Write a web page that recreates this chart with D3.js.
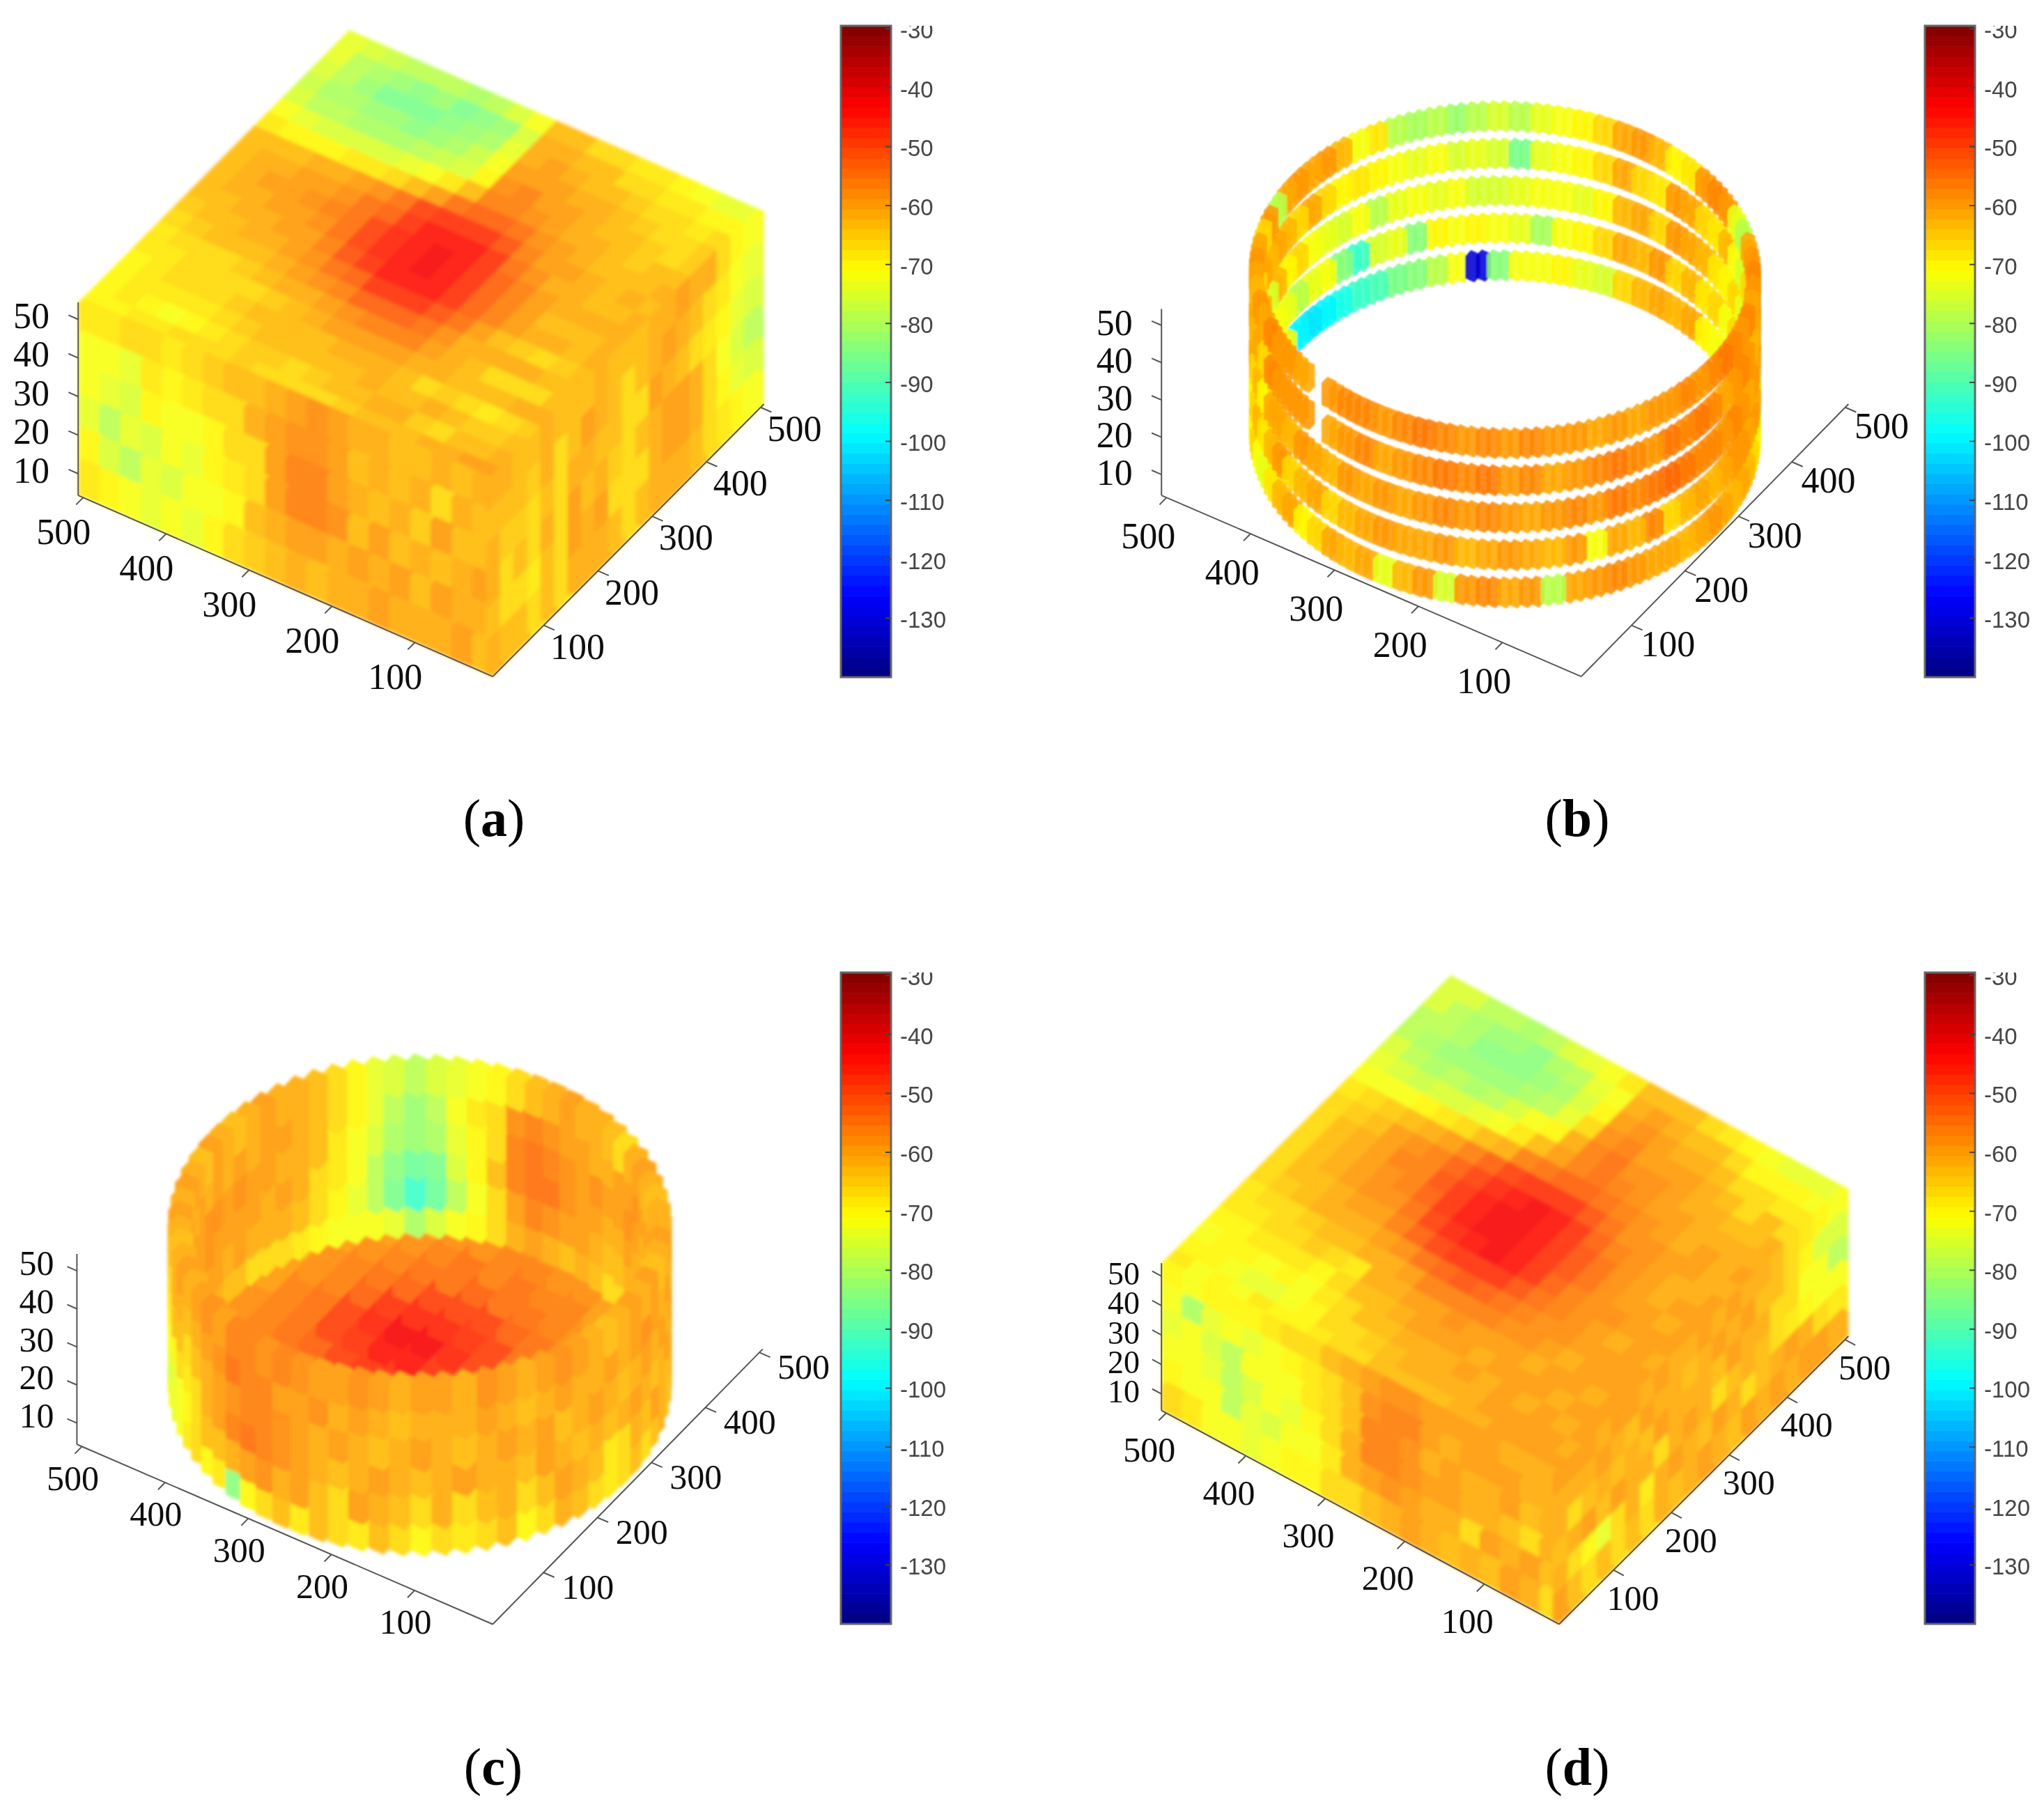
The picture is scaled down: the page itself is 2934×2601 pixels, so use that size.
<!DOCTYPE html>
<html><head><meta charset="utf-8">
<style>html,body{margin:0;background:#fff}svg{display:block}</style>
<script src="https://cdn.jsdelivr.net/npm/d3@7"></script></head><body>
<svg id="chart" width="2934" height="2601"></svg>
<script>
// All received-power readings below are magnitudes in dBm (62 means -62 dBm).
const xTicks=[100,200,300,400,500], yTicks=[100,200,300,400,500], zTicks=[10,20,30,40,50];
const barTicks=[-30,-40,-50,-60,-70,-80,-90,-100,-110,-120,-130];
const captions=['a','b','c','d'];

// Panel (a): top layer, rows x high to low, columns y low to high
const topA=[
[70,70,70,70,69,68,66,65,64,64,63,63,64,68,72,75,77,76,74,73],
[70,69,68,68,68,67,65,64,63,62,62,62,64,70,74,78,80,79,78,75],
[68,70,68,67,66,66,64,63,62,61,60,61,63,70,75,79,81,82,80,77],
[68,72,68,66,66,66,63,62,61,60,60,60,62,70,76,80,82,85,83,78],
[66,70,68,66,66,65,63,61,60,59,58,59,61,69,76,80,83,86,84,79],
[66,68,66,65,66,63,62,60,59,58,57,58,60,68,75,80,84,85,83,78],
[66,66,65,64,65,62,60,58,56,55,54,55,58,66,74,79,82,84,85,80],
[65,65,64,64,63,61,58,54,51,50,50,52,55,64,72,77,80,83,84,79],
[66,65,64,64,62,60,56,52,48,46,46,47,50,60,69,75,77,81,82,76],
[66,66,64,63,60,58,53,48,45,44,44,45,48,54,64,70,72,74,76,72],
[66,65,63,62,60,57,52,47,44,43,43,44,47,53,56,58,60,61,62,64],
[66,64,63,61,60,57,53,48,45,44,44,45,48,53,56,57,59,60,61,64],
[65,63,62,62,59,57,55,51,48,47,47,48,51,55,58,59,60,62,63,66],
[64,62,63,64,62,60,58,55,53,52,52,54,56,58,59,60,61,63,64,67],
[64,62,64,66,62,62,61,59,57,57,57,58,60,60,61,61,62,64,66,68],
[63,65,62,65,63,64,61,63,60,60,60,61,60,62,62,63,63,65,67,69],
[62,66,63,67,63,66,62,65,61,63,61,62,62,63,64,64,65,66,68,70],
[61,64,65,68,63,67,62,66,62,64,62,63,63,64,65,65,66,67,69,71],
[60,63,65,66,62,66,63,65,63,63,62,63,62,63,64,66,66,68,70,73],
[60,62,63,65,62,64,63,64,62,62,62,62,63,62,63,65,65,67,70,74]];
// left wall: rows top to bottom, columns far corner to front corner
const leftA=[
[68,68,67,66,68,66,65,64,63,62,60,58,60,62,62,63,64,62,63,62],
[71,72,73,68,70,68,66,67,62,60,58,58,60,63,61,64,62,66,61,63],
[72,74,76,70,72,72,70,66,66,60,57,57,59,62,63,61,65,60,63,64],
[73,79,74,76,72,74,70,68,66,60,56,56,58,64,60,63,62,64,62,60],
[70,76,78,73,76,72,72,70,64,62,60,60,61,60,62,60,63,60,62,61],
[68,70,72,74,72,74,70,66,65,64,62,63,62,61,60,62,61,62,60,64]];
// right wall: rows top to bottom, columns front corner to far corner
const rightA=[
[62,62,63,64,62,63,64,64,62,63,64,64,62,61,60,62,62,66,70,72],
[63,64,64,65,62,66,63,60,62,64,66,63,62,60,62,64,66,68,72,74],
[62,65,65,66,63,66,62,62,64,63,67,66,60,62,64,66,68,70,74,76],
[62,66,64,67,62,66,60,63,61,65,66,64,62,60,60,62,66,72,76,78],
[64,66,66,68,64,67,60,62,60,66,67,66,62,60,60,62,66,70,74,76],
[62,64,64,66,64,66,62,62,62,64,66,64,62,62,62,64,66,68,70,72]];

// Panel (b): five rings, clockwise on screen from the far side; 0 = no reading
const zB=[10,20,30,40,50];
const ringsB=[
[84,72,71,70,74,76,66,63,62,64,62,70,72,70,72,74,70,66,68,70,66,64,62,64,62,60,62,64,62,62,60,58,60,62,78,60,62,58,60,76,60,64,74,62,64,62,66,70,62,64,68,74,72,66,70,64,74,72,70,70,72,100,102,100,96,92,90,86,84,78,72,130],
[72,74,80,72,70,66,62,64,60,66,64,68,66,72,66,72,76,80,66,62,60,62,60,60,62,64,62,64,66,58,64,62,72,60,64,62,60,62,64,60,62,62,60,62,64,66,62,64,66,60,64,68,64,66,70,62,66,64,78,72,74,78,74,72,84,92,76,74,84,70,72,70],
[76,74,72,72,74,70,64,62,66,60,62,64,68,70,66,74,78,64,60,62,60,62,60,58,60,58,58,56,54,56,58,56,60,58,60,62,60,58,60,58,60,62,60,62,60,64,62,60,64,62,62,70,64,66,62,64,66,64,76,64,70,66,72,74,76,72,78,74,72,74,72,76],
[76,86,74,72,70,66,62,66,68,60,62,66,68,64,72,76,66,62,60,62,64,60,58,60,62,58,56,58,56,60,58,56,58,60,62,58,60,56,58,56,58,60,62,58,60,62,0,60,60,60,58,66,62,64,62,64,66,62,64,62,64,66,62,66,70,68,70,72,74,72,76,74],
[76,78,74,72,70,66,62,60,64,70,68,60,58,60,74,78,62,60,58,60,62,58,60,58,56,58,60,58,60,60,62,60,62,60,60,58,60,58,60,58,56,58,60,58,58,60,0,62,60,60,58,62,60,64,62,60,62,66,60,78,62,60,62,60,64,72,68,78,80,78,82,78]];

// Panel (c): floor, rows x high to low; then cylinder wall layers
const floorC=[
[62,62,62,60,60,60,60,60,60,62,62,64,66,66,64,64],
[62,62,60,60,60,58,58,58,58,60,60,62,62,62,64,64],
[62,60,60,58,60,58,56,56,56,56,58,58,60,60,62,62],
[60,62,60,58,58,56,56,54,54,54,56,56,58,60,60,62],
[62,60,58,60,58,56,54,52,50,50,52,54,56,58,60,60],
[60,62,60,58,56,54,52,50,48,46,48,52,54,56,58,60],
[62,60,58,58,56,54,50,48,44,42,46,50,54,54,58,60],
[60,60,60,58,54,54,50,48,44,42,46,50,52,56,56,58],
[62,60,58,58,56,54,52,50,48,46,48,50,54,54,56,60],
[60,62,60,58,56,54,54,52,50,50,50,52,54,56,58,58],
[62,60,62,60,58,56,56,54,54,54,54,54,56,56,58,60],
[60,62,60,62,60,58,58,58,56,56,58,58,58,60,60,62],
[62,60,62,60,62,60,60,60,60,60,60,60,60,62,60,62],
[60,62,60,62,60,62,60,62,60,62,60,62,60,62,62,60],
[62,60,62,60,62,60,62,60,62,60,62,60,62,60,62,62],
[60,62,60,62,60,62,60,62,60,62,60,62,60,62,60,62]];
const zC=[47,40,32,25,17,10];
const wallC=[
[78,76,74,72,70,66,64,62,60,62,62,64,66,62,60,62,64,62,62,60,62,64,60,62,60,62,64,62,60,58,60,62,60,58,62,60,60,62,60,58,60,60,58,56,58,56,56,60,58,60,62,60,62,64,62,60,62,60,62,64,60,62,64,62,60,62,62,64,66,70,74,76],
[82,78,72,68,66,58,56,58,60,60,62,62,60,60,58,60,60,62,60,62,60,62,60,58,60,62,60,62,62,60,62,64,62,60,62,62,62,64,62,60,62,58,60,60,56,56,54,58,60,62,64,62,62,66,64,62,60,62,60,62,60,62,60,62,60,60,62,64,66,70,74,78],
[82,80,74,70,66,56,54,56,58,60,58,60,60,58,60,62,60,60,62,60,62,60,62,60,62,64,62,60,62,64,60,62,60,62,64,62,60,62,64,62,60,62,60,58,56,56,58,60,62,64,66,64,64,68,66,64,62,60,60,58,58,60,58,60,60,62,62,64,68,72,76,80],
[88,86,76,70,64,56,54,54,58,60,60,62,62,60,62,60,62,60,60,62,60,62,64,62,60,62,64,62,64,62,60,64,62,62,60,62,64,62,60,62,64,62,60,58,56,54,56,60,62,66,68,66,70,72,70,66,64,60,60,58,60,60,60,60,62,60,62,66,68,72,78,84],
[92,88,78,72,66,60,56,58,60,60,62,64,64,62,60,62,64,62,60,62,64,62,60,64,62,66,68,64,62,60,64,66,62,64,66,62,66,64,62,60,66,64,60,62,58,60,62,64,64,66,70,72,74,76,72,70,68,64,62,60,60,62,60,62,62,62,64,66,70,74,78,86],
[80,76,72,70,66,62,60,62,64,62,64,66,66,64,66,64,66,64,62,64,64,62,64,66,64,66,68,66,64,62,66,70,64,66,68,66,70,66,64,68,66,64,68,64,66,70,84,68,70,66,68,72,74,72,76,72,70,68,64,62,62,64,64,66,66,66,68,70,72,72,72,74]];

// Panel (d)
const topD=[
[68,70,72,70,68,68,66,66,66,66,66,66,68,72,74,76,78,78,76,76],
[72,70,70,70,68,66,65,64,64,64,64,65,67,72,76,78,80,78,78,76],
[70,72,70,68,66,66,64,63,62,62,62,63,65,71,77,80,82,80,80,78],
[72,74,72,68,66,65,62,62,60,60,60,60,63,70,76,79,82,84,82,78],
[68,74,70,68,65,64,62,60,58,58,57,58,61,68,75,80,83,84,83,80],
[70,72,72,70,66,64,62,60,58,56,56,56,59,66,74,78,82,84,84,78],
[70,70,68,66,68,62,60,57,54,52,51,52,56,64,72,76,80,82,80,76],
[68,66,66,64,62,61,58,53,49,48,47,49,53,61,68,72,78,80,78,74],
[66,66,64,63,61,59,55,50,46,45,44,46,50,57,64,70,74,76,74,72],
[66,65,64,62,60,57,53,48,44,43,43,44,48,54,60,62,66,70,72,68],
[64,64,62,60,59,56,51,47,43,42,42,43,47,53,56,56,58,60,62,64],
[64,62,62,60,58,56,52,48,45,44,44,45,48,53,55,55,57,58,60,63],
[64,62,62,60,59,57,54,51,48,47,47,48,51,54,56,58,60,60,62,64],
[64,62,60,62,60,58,56,54,52,51,51,52,54,56,58,58,60,62,63,66],
[62,62,62,60,60,58,58,57,56,55,55,56,58,58,60,60,60,62,64,68],
[62,60,60,60,62,60,58,58,58,58,58,58,58,60,60,62,62,64,66,70],
[60,60,62,60,60,62,60,60,58,60,60,60,60,62,62,62,64,66,70,72],
[60,60,60,62,60,60,60,62,60,60,62,62,60,60,62,64,66,66,70,74],
[60,60,62,60,62,60,60,60,60,62,60,62,62,62,62,64,64,68,70,74],
[60,62,60,60,60,60,60,62,60,60,60,60,62,60,62,62,66,68,72,74]];
const leftD=[
[70,72,70,70,70,68,66,66,64,62,60,58,58,60,60,60,60,62,62,62],
[72,80,74,72,74,72,70,68,66,64,58,56,56,60,62,60,60,60,62,62],
[74,72,76,78,72,72,72,68,66,64,56,56,58,62,60,62,62,60,64,62],
[72,71,74,78,76,72,74,70,66,62,57,56,58,60,60,62,62,64,66,62],
[70,72,72,78,74,76,72,72,68,62,60,58,60,62,62,66,60,62,60,64],
[66,68,72,72,74,72,70,70,66,66,64,62,60,62,64,62,64,60,62,66]];
const rightD=[
[60,60,60,62,60,60,62,60,62,62,60,62,60,62,62,64,66,68,70,72],
[62,62,62,60,62,64,60,62,62,64,62,60,62,60,64,64,66,70,76,76],
[62,66,64,62,64,62,64,60,62,62,62,64,60,62,62,66,66,72,72,78],
[64,62,60,64,60,62,62,66,62,60,62,66,64,62,64,66,68,70,72,72],
[62,66,70,74,66,62,68,62,60,62,64,60,62,66,64,62,60,62,66,68],
[60,64,66,64,66,64,66,62,64,62,60,62,64,60,62,60,62,60,60,62]];

// ---------- layout (page pixels) ----------
const K=2934/1568;
const pt=(a,b)=>[a*K,b*K];
const panels={
 a:{F:pt(378,519),L:pt(60,380),R:pt(586,310),H:148*K,bar:[1207,37],cap:[709,1200],xo:pt(-15,26),yo:pt(26,16),zo:pt(-36,-3),blur:2.4,fs:52,zfs:52},
 b:{F:pt(1213,519),L:pt(891,380),R:pt(1418,310),H:143*K,bar:[2763,37],cap:[2264,1200],xo:pt(-14,29),yo:pt(28,14),zo:pt(-36,-2),blur:1.1,fs:52,zfs:52},
 c:{F:pt(378,1246),L:pt(59,1108),R:pt(585,1035),H:146*K,bar:[1207,1396],cap:[708,2562],xo:pt(-7,24),yo:pt(34,11),zo:pt(-31,-6),blur:2.2,fs:50,zfs:50},
 d:{F:pt(1196,1246),L:pt(891,1082),R:pt(1418,1025),H:113*K,bar:[2763,1396],cap:[2264,2562],xo:pt(-13,28),yo:pt(15,21),zo:pt(-29,-2),blur:2.4,fs:50,zfs:46}
};
const barW=72, barH=935;
const ringStart=56.3; // angle of the far point of a ring on screen

// ---------- scales ----------
const uX=d3.scaleLinear([6,506],[0,1]), uY=d3.scaleLinear([6,506],[0,1]), uZ=d3.scaleLinear([4.4,54.4],[0,1]);
function jet(t){const c=v=>Math.round(255*Math.max(0,Math.min(1,v)));
  return d3.rgb(c(1.5-Math.abs(4*t-3)),c(1.5-Math.abs(4*t-2)),c(1.5-Math.abs(4*t-1)));}
const levels=d3.range(64).map(i=>jet((i+.5)/64).formatHex());
const colour=d3.scaleQuantize([-140,-29.5],levels);
const soft=v=>d3.interpolateRgb('#fff',colour(-v))(.88);

const svg=d3.select('#chart');
const defs=svg.append('defs');
function blurFilter(id,s){defs.append('filter').attr('id',id).attr('filterUnits','userSpaceOnUse')
  .attr('x',0).attr('y',0).attr('width',2934).attr('height',2601)
  .append('feGaussianBlur').attr('stdDeviation',s);}
blurFilter('txt',.7);

function projector(p){return (x,y,z)=>{const a=uX(x),b=uY(y),c=uZ(z);
  return [p.F[0]+a*(p.L[0]-p.F[0])+b*(p.R[0]-p.F[0]),
          p.F[1]+a*(p.L[1]-p.F[1])+b*(p.R[1]-p.F[1])-c*p.H];};}
function boxPath(P,d){const pts=[];
  for(const i of[-1,1])for(const j of[-1,1])for(const k of[-1,1])
    pts.push(P(d.x+i*d.hx,d.y+j*d.hy,d.z+k*d.hz));
  return d3.line()(d3.polygonHull(pts))+'Z';}

// ---------- voxel sets built from the arrays ----------
function boxVoxels(top,left,right){
  const n=top.length, cell=d3.scaleBand(d3.range(n),[6,506]), w=cell.bandwidth();
  const rows=left.length, rowZ=d3.scaleBand(d3.range(rows),[4.4,54.4]), bz=rowZ.bandwidth();
  const out=[], tops=[];
  top.forEach((row,r)=>row.forEach((v,c)=>tops.push({x:cell(n-1-r)+w/2,y:cell(c)+w/2,z:53.4,hx:w/2,hy:w/2,hz:1,v})));
  tops.sort((a,b)=>(b.x+b.y)-(a.x+a.y));
  out.push(...tops);
  left.forEach((row,r)=>row.forEach((v,c)=>out.push({x:cell(n-1-c)+w/2,y:10,z:rowZ(rows-1-r)+bz/2,hx:w/2,hy:4,hz:bz/2,v})));
  right.forEach((row,r)=>row.forEach((v,c)=>out.push({x:10,y:cell(c)+w/2,z:rowZ(rows-1-r)+bz/2,hx:4,hy:w/2,hz:bz/2,v})));
  return out;
}
function ringVoxels(){
  const out=[];
  ringsB.forEach((ring,ri)=>ring.forEach((v,k)=>{ if(!v) return;
    for(const off of[-1.25,1.25]){
      const t=(ringStart+k*360/ring.length+off)*Math.PI/180;
      out.push({x:256+250*Math.cos(t),y:256+250*Math.sin(t),z:zB[ri],hx:5.4,hy:5.4,hz:3,v});
    }}));
  return out.sort((a,b)=>(b.x+b.y)-(a.x+a.y)||a.z-b.z);
}
function cylinderVoxels(){
  const floor=[], wall=[], n=floorC.length, cell=d3.scaleBand(d3.range(n),[6,506]), w=cell.bandwidth();
  floorC.forEach((row,r)=>row.forEach((v,c)=>{const x=cell(n-1-r)+w/2,y=cell(c)+w/2;
    if(Math.hypot(x-256,y-256)<235) floor.push({x,y,z:10,hx:w/2,hy:w/2,hz:1.5,v});}));
  wallC.forEach((ring,ri)=>ring.forEach((v,k)=>{const t=(ringStart+k*360/ring.length)*Math.PI/180;
    wall.push({x:256+242*Math.cos(t),y:256+242*Math.sin(t),z:zC[ri],hx:9,hy:9,hz:3.7,v});}));
  wall.sort((a,b)=>(b.x+b.y)-(a.x+a.y)||a.z-b.z);
  return floor.concat(wall);
}
const voxels={a:boxVoxels(topA,leftA,rightA),b:ringVoxels(),c:cylinderVoxels(),d:boxVoxels(topD,leftD,rightD)};

// ---------- drawing ----------
captions.forEach(id=>{
  const p=panels[id], P=projector(p), g=svg.append('g').attr('class','panel-'+id);
  blurFilter('b'+id,p.blur);
  g.append('g').attr('filter','url(#b'+id+')').selectAll('path').data(voxels[id]).join('path')
    .attr('d',d=>boxPath(P,d))
    .attr('fill',d=>id==='b'?colour(-d.v):soft(d.v))
    .attr('fill-opacity',id==='b'?.88:1);

  // box axes
  const ax=g.append('g').attr('stroke','#555').attr('stroke-width',2).attr('fill','none');
  const seg=(a,b)=>ax.append('line').attr('x1',a[0]).attr('y1',a[1]).attr('x2',b[0]).attr('y2',b[1]);
  seg(p.F,p.L); seg(p.F,p.R); seg(p.L,[p.L[0],p.L[1]-p.H]);
  const tl=.026;
  const unit=(a,b)=>[(b[0]-a[0])*tl,(b[1]-a[1])*tl];
  const uLF=unit(p.L,p.F), uRF=unit(p.R,p.F), uFL=unit(p.F,p.L);
  const lab=g.append('g').attr('filter','url(#txt)').attr('font-family','"Liberation Serif",serif')
    .attr('fill','#111').attr('text-anchor','middle');
  const put=(pos,t,o,fs)=>lab.append('text').attr('x',pos[0]+o[0]).attr('y',pos[1]+o[1]).attr('dy','.35em').attr('font-size',fs).text(t);
  xTicks.forEach(t=>{const a=uX(t),q=[p.F[0]+a*(p.L[0]-p.F[0]),p.F[1]+a*(p.L[1]-p.F[1])];
    seg(q,[q[0]+uRF[0],q[1]+uRF[1]]); put(q,t,p.xo,p.fs);});
  yTicks.forEach(t=>{const a=uY(t),q=[p.F[0]+a*(p.R[0]-p.F[0]),p.F[1]+a*(p.R[1]-p.F[1])];
    seg(q,[q[0]+uLF[0],q[1]+uLF[1]]); put(q,t,p.yo,p.fs);});
  zTicks.forEach(t=>{const q=[p.L[0],p.L[1]-uZ(t)*p.H];
    seg(q,[q[0]+uFL[0]*.9,q[1]+uFL[1]*.9]); put(q,t,p.zo,p.zfs);});

  // colour bar
  const bar=g.append('g').attr('transform','translate('+p.bar+')');
  const by=d3.scaleLinear([-29.5,-140],[0,barH]);
  const band=d3.scaleBand(d3.range(64).reverse(),[0,barH]);
  bar.selectAll('rect.lv').data(d3.range(64)).join('rect').attr('class','lv')
    .attr('x',0).attr('width',barW).attr('y',i=>band(i)).attr('height',band.bandwidth()+.6).attr('fill',i=>levels[i]);
  bar.append('rect').attr('width',barW).attr('height',barH).attr('fill','none').attr('stroke','#666').attr('stroke-width',3);
  bar.selectAll('line').data(barTicks).join('line').attr('x1',barW-8).attr('x2',barW)
    .attr('y1',by).attr('y2',by).attr('stroke','#444').attr('stroke-width',2);
  bar.append('g').attr('filter','url(#txt)').selectAll('text').data(barTicks).join('text')
    .attr('x',barW+13).attr('y',d=>by(d)+2).attr('dy','.36em')
    .attr('font-family','"Liberation Sans",Arial,sans-serif').attr('font-size',33).attr('fill','#444').text(d=>d);

  // caption
  const cap=g.append('text').attr('x',p.cap[0]).attr('y',p.cap[1]).attr('text-anchor','middle')
    .attr('font-family','"Liberation Serif",serif').attr('font-size',76).attr('fill','#000');
  cap.append('tspan').text('(');
  cap.append('tspan').attr('font-weight','bold').text(id);
  cap.append('tspan').text(')');
});
</script></body></html>
